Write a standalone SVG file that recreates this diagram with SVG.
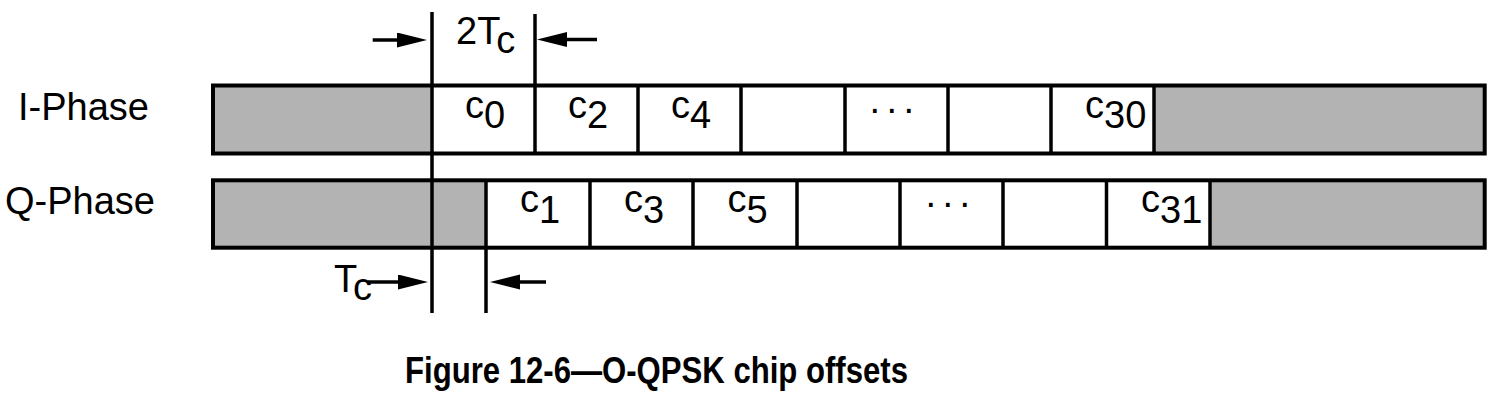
<svg xmlns="http://www.w3.org/2000/svg" width="1492" height="408" viewBox="0 0 1492 408">
<style>
.lbl{font-family:"Liberation Sans",Arial,sans-serif;font-size:38px;fill:#000}
.cap{font-family:"Liberation Sans",Arial,sans-serif;font-size:36px;font-weight:bold;fill:#000}
.gray{fill:#b3b3b3;stroke:none}
.frame{fill:none;stroke:#000;stroke-width:4}
.div{stroke:#000;stroke-width:3.5}
.vline{stroke:#000;stroke-width:3.5}
.arr{stroke:#000;stroke-width:3.5;marker-end:url(#ah)}
</style>
<defs>
<marker id="ah" markerUnits="userSpaceOnUse" markerWidth="32" markerHeight="16" refX="20" refY="7.5" orient="auto">
<path d="M0,0 L30,7.5 L0,15 z" fill="#000"/>
</marker>
</defs>
<g id="labels">
<text class="lbl" x="18" y="119.5">I-Phase</text>
<text class="lbl" x="5" y="213.5">Q-Phase</text>
</g>
<g id="i-phase">
<rect class="gray" x="213" y="85.5" width="219" height="68"/>
<rect class="gray" x="1154" y="85.5" width="330.7" height="68"/>
<line class="div" x1="535" y1="85.5" x2="535" y2="153.5"/>
<line class="div" x1="638" y1="85.5" x2="638" y2="153.5"/>
<line class="div" x1="741" y1="85.5" x2="741" y2="153.5"/>
<line class="div" x1="845" y1="85.5" x2="845" y2="153.5"/>
<line class="div" x1="948" y1="85.5" x2="948" y2="153.5"/>
<line class="div" x1="1051" y1="85.5" x2="1051" y2="153.5"/>
<line class="div" x1="1154" y1="85.5" x2="1154" y2="153.5"/>
<rect class="frame" x="213" y="85.5" width="1271.7" height="68"/>
<text class="lbl" x="465" y="117.5">c<tspan dy="10.5">0</tspan></text>
<text class="lbl" x="568" y="117.5">c<tspan dy="10.5">2</tspan></text>
<text class="lbl" x="671" y="117.5">c<tspan dy="10.5">4</tspan></text>
<text class="lbl" x="869.5" y="112.5" letter-spacing="6.5">...</text>
<text class="lbl" x="1085" y="117.5">c<tspan dy="10.5">30</tspan></text>
</g>
<g id="q-phase">
<rect class="gray" x="213" y="180.3" width="273" height="67.4"/>
<rect class="gray" x="1210" y="180.3" width="274.7" height="67.4"/>
<line class="div" x1="590" y1="180.3" x2="590" y2="247.7"/>
<line class="div" x1="693" y1="180.3" x2="693" y2="247.7"/>
<line class="div" x1="797" y1="180.3" x2="797" y2="247.7"/>
<line class="div" x1="900" y1="180.3" x2="900" y2="247.7"/>
<line class="div" x1="1003" y1="180.3" x2="1003" y2="247.7"/>
<line class="div" x1="1106.5" y1="180.3" x2="1106.5" y2="247.7"/>
<line class="div" x1="1210" y1="180.3" x2="1210" y2="247.7"/>
<rect class="frame" x="213" y="180.3" width="1271.7" height="67.4"/>
<text class="lbl" x="520" y="211.7">c<tspan dy="11">1</tspan></text>
<text class="lbl" x="624" y="211.7">c<tspan dy="11">3</tspan></text>
<text class="lbl" x="727.5" y="211.7">c<tspan dy="11">5</tspan></text>
<text class="lbl" x="925.5" y="206.5" letter-spacing="6.5">...</text>
<text class="lbl" x="1141" y="211.7">c<tspan dy="11">31</tspan></text>
</g>
<g id="connectors">
<line class="vline" x1="432" y1="12" x2="432" y2="313"/>
<line class="vline" x1="535" y1="14" x2="535" y2="87"/>
<line class="vline" x1="486" y1="180" x2="486" y2="313"/>
<line class="arr" x1="372.7" y1="40" x2="417" y2="40"/>
<line class="arr" x1="597" y1="39.5" x2="547" y2="39.5"/>
<line class="arr" x1="368" y1="282" x2="418" y2="282"/>
<line class="arr" x1="546" y1="282" x2="500" y2="282"/>
</g>
<g id="dimension-labels">
<text class="lbl" x="456" y="44">2T<tspan dy="9">c</tspan></text>
<text class="lbl" x="334" y="291.5">T<tspan dy="8.5">c</tspan></text>
</g>
<g id="caption">
<text class="cap" x="656.5" y="383.3" text-anchor="middle" textLength="503" lengthAdjust="spacingAndGlyphs">Figure 12-6—O-QPSK chip offsets</text>
</g>
</svg>
